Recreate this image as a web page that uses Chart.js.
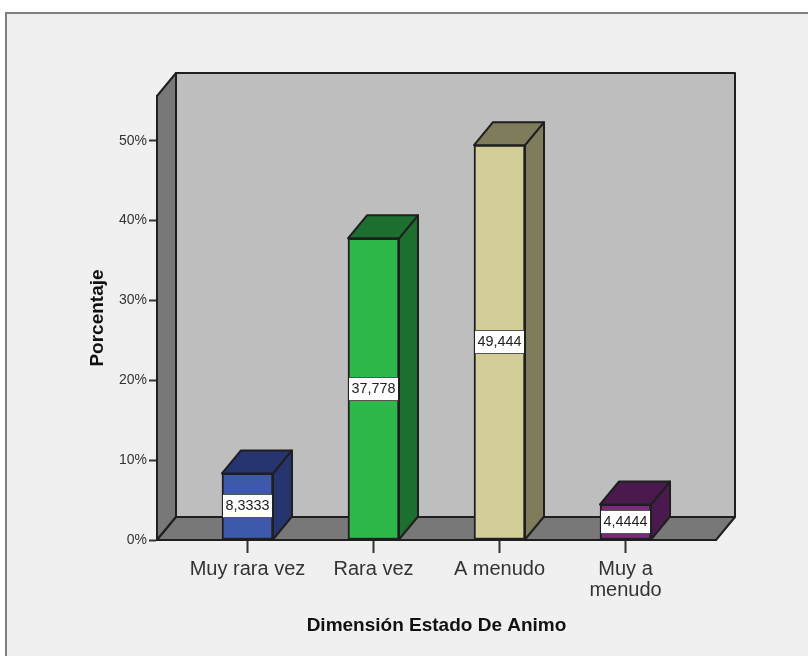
<!DOCTYPE html>
<html>
<head>
<meta charset="utf-8">
<title>Dimensión Estado De Animo</title>
<script src="https://cdn.jsdelivr.net/npm/chart.js@4"></script>
<style>html,body{margin:0;padding:0;background:#fff}canvas{display:block}</style>
</head>
<body>
<canvas id="c" width="808" height="656"></canvas>
<script>
const categories = [["Muy rara vez"], ["Rara vez"], ["A menudo"], ["Muy a", "menudo"]];
const values = [8.3333, 37.778, 49.444, 4.4444];
const valueLabels = ["8,3333", "37,778", "49,444", "4,4444"];
const yTicks = [0, 10, 20, 30, 40, 50];
const frontColors = ["#3e58ac", "#2eb84c", "#d3ce97", "#7d2a7e"];
const sideColors = ["#26346f", "#1c6f2e", "#7f7c5b", "#4a1a4e"];
const yTitle = "Porcentaje";
const xTitle = "Dimensión Estado De Animo";

const DX = 19, DY = -23, LINE = "#1f1f1f";

function poly(ctx, pts, fill, lw) {
  ctx.beginPath();
  pts.forEach((p, i) => i ? ctx.lineTo(p[0], p[1]) : ctx.moveTo(p[0], p[1]));
  ctx.closePath();
  ctx.fillStyle = fill;
  ctx.fill();
  ctx.lineWidth = lw;
  ctx.lineJoin = "round";
  ctx.strokeStyle = LINE;
  ctx.stroke();
}

const scene = {
  id: "scene",
  beforeDraw(chart) {
    const { ctx, chartArea: a, width, height } = chart;
    ctx.save();
    ctx.fillStyle = "#ffffff";
    ctx.fillRect(0, 0, width, height);
    ctx.fillStyle = "#f0f0f0";
    ctx.fillRect(5, 12, width, height);
    ctx.fillStyle = "#7f7f7f";
    ctx.fillRect(5, 12, width, 2);
    ctx.fillRect(5, 12, 2, height);
    poly(ctx, [[a.left + DX, a.top + DY], [a.right + DX, a.top + DY], [a.right + DX, a.bottom + DY], [a.left + DX, a.bottom + DY]], "#bebebe", 2);
    poly(ctx, [[a.left, a.top], [a.left + DX, a.top + DY], [a.left + DX, a.bottom + DY], [a.left, a.bottom]], "#787878", 2);
    poly(ctx, [[a.left, a.bottom], [a.left + DX, a.bottom + DY], [a.right + DX, a.bottom + DY], [a.right, a.bottom]], "#787878", 2);
    ctx.restore();
  },
  beforeDatasetsDraw(chart) {
    const { ctx } = chart;
    ctx.save();
    chart.getDatasetMeta(0).data.forEach((b, i) => {
      const p = b.getProps(["x", "y", "base", "width"], true);
      const l = p.x - p.width / 2, r = p.x + p.width / 2;
      poly(ctx, [[r, p.y], [r + DX, p.y + DY], [r + DX, p.base + DY], [r, p.base]], sideColors[i], 2);
      poly(ctx, [[l, p.y], [l + DX, p.y + DY], [r + DX, p.y + DY], [r, p.y]], sideColors[i], 2);
    });
    ctx.restore();
  },
  afterDatasetsDraw(chart) {
    const { ctx } = chart;
    ctx.save();
    chart.getDatasetMeta(0).data.forEach((b, i) => {
      const p = b.getProps(["x", "y", "base", "width"], true);
      const cy = Math.round((p.y + p.base) / 2);
      const l = p.x - p.width / 2 + 1;
      ctx.fillStyle = "#ffffff";
      ctx.strokeStyle = "#555555";
      ctx.lineWidth = 1;
      ctx.fillRect(l, cy - 11, p.width - 2, 22);
      ctx.beginPath();
      ctx.moveTo(l, cy - 11.5); ctx.lineTo(l + p.width - 2, cy - 11.5);
      ctx.moveTo(l, cy + 11.5); ctx.lineTo(l + p.width - 2, cy + 11.5);
      ctx.stroke();
      ctx.fillStyle = "#222222";
      ctx.font = "14.4px 'Liberation Sans'";
      ctx.textAlign = "center";
      ctx.textBaseline = "middle";
      ctx.fillText(valueLabels[i], p.x, cy + 0.5);
    });
    ctx.restore();
  }
};

new Chart(document.getElementById("c"), {
  type: "bar",
  data: {
    datasets: [{
      data: values.map((v, i) => ({ x: i, y: v })),
      backgroundColor: frontColors,
      borderColor: LINE,
      borderWidth: 2,
      borderSkipped: false,
      barThickness: 51
    }]
  },
  plugins: [scene],
  options: {
    responsive: false,
    animation: false,
    layout: { padding: { left: 0, top: 96, right: 92, bottom: 0 } },
    plugins: { legend: { display: false }, tooltip: { enabled: false }, title: { display: false } },
    scales: {
      x: {
        type: "linear",
        offset: false,
        min: -0.718,
        max: 3.718,
        afterFit(s) { s.height = 116; },
        afterBuildTicks(s) { s.ticks = categories.map((_, i) => ({ value: i })); },
        grid: { offset: false, drawOnChartArea: false, drawTicks: true, tickLength: 13, tickWidth: 2, tickColor: "#333333" },
        border: { display: true, color: LINE, width: 2 },
        ticks: {
          autoSkip: false, maxRotation: 0, minRotation: 0, padding: 6,
          color: "#333333",
          font: { family: "'Liberation Sans'", size: 20, lineHeight: 1.05 },
          callback: v => categories[v]
        },
        title: {
          display: true, text: xTitle, color: "#111111",
          font: { family: "'Liberation Sans'", size: 19, weight: "bold", lineHeight: 1.2 },
          padding: { top: 0, bottom: 19 }
        }
      },
      y: {
        type: "linear",
        min: 0,
        max: 55.6,
        afterFit(s) { s.width = 157; },
        afterBuildTicks(s) { s.ticks = yTicks.map(v => ({ value: v })); },
        grid: { drawOnChartArea: false, drawTicks: true, tickLength: 8, tickWidth: 2, tickColor: "#333333" },
        border: { display: true, color: LINE, width: 2 },
        ticks: {
          padding: 2, color: "#333333",
          font: { family: "'Liberation Sans'", size: 14 },
          callback: v => v + "%"
        },
        title: {
          display: true, text: yTitle, color: "#111111",
          font: { family: "'Liberation Sans'", size: 19, weight: "bold", lineHeight: 1.2 },
          padding: { top: 86, bottom: 0 }
        }
      }
    }
  }
});
</script>
</body>
</html>
